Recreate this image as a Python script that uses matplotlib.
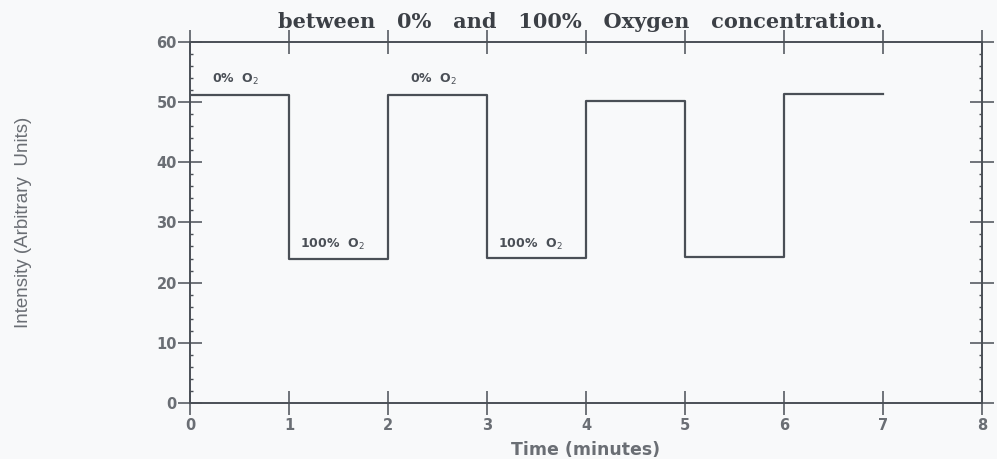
"""Oxygen response of the sensor film: intensity steps while the gas
supply is switched between 0% and 100% O2 once a minute."""
import matplotlib.pyplot as plt
from matplotlib.ticker import MultipleLocator

# step edges (minutes) and the intensity held over each interval
EDGES = [0, 1, 2, 3, 4, 5, 6, 7]
LEVELS = [51.1, 24.0, 51.2, 24.1, 50.2, 24.2, 51.4]

# gas labels: (time, intensity, text)
LABELS = [
    (0.22, 53.7, "0%  O$_2$"),
    (2.22, 53.7, "0%  O$_2$"),
    (1.11, 26.4, "100%  O$_2$"),
    (3.11, 26.4, "100%  O$_2$"),
]

X_TICKS = [0, 1, 2, 3, 4, 5, 6, 7, 8]
Y_TICKS = [0, 10, 20, 30, 40, 50, 60]

INK = "#4a4f56"
TICK_INK = "#6a6e74"
PAPER = "#f8f9fa"

fig = plt.figure(figsize=(9.97, 4.59), dpi=100, facecolor=PAPER)
ax = fig.add_axes([0.1906, 0.1220, 0.7944, 0.7869], facecolor=PAPER)

# staircase: repeat the last level so the final step is drawn to its end
ax.step(EDGES, LEVELS + [LEVELS[-1]], where="post", color=INK, lw=1.6)

for x, y, txt in LABELS:
    ax.text(x, y, txt, fontsize=9, color=INK, ha="left", va="center",
            family="DejaVu Sans", fontweight="bold")

ax.set_xlim(0, 8)
ax.set_ylim(0, 60)
ax.set_xticks(X_TICKS)
ax.set_yticks(Y_TICKS)
ax.yaxis.set_minor_locator(MultipleLocator(2))

for side in ax.spines.values():
    side.set_color(INK)
    side.set_linewidth(1.4)

ax.tick_params(axis="both", which="major", direction="inout", length=17,
               width=1.1, color=INK, top=True, right=True,
               labelsize=10.5, labelcolor=TICK_INK)
ax.tick_params(axis="y", which="minor", direction="in", length=2.5,
               width=1.0, color=INK, left=True, right=True)
ax.tick_params(axis="x", which="major", pad=2)
ax.tick_params(axis="y", which="major", pad=1)
for lab in ax.get_xticklabels() + ax.get_yticklabels():
    lab.set_family("DejaVu Sans")
    lab.set_fontweight("bold")

ax.set_xlabel("Time (minutes)", fontsize=12.5, color=TICK_INK,
              family="DejaVu Sans", fontweight="bold", labelpad=6)
ax.set_ylabel("Intensity (Arbitrary  Units)", fontsize=13.5, color=TICK_INK,
              family="Liberation Sans")
ax.yaxis.set_label_coords(-0.199, 0.5)

fig.text(0.582, 0.953, "between   0%   and   100%   Oxygen   concentration.",
         ha="center", va="center", fontsize=15, color="#3c4046",
         family="DejaVu Serif", fontweight="bold")

fig.savefig("out.png", dpi=100, facecolor=PAPER)
